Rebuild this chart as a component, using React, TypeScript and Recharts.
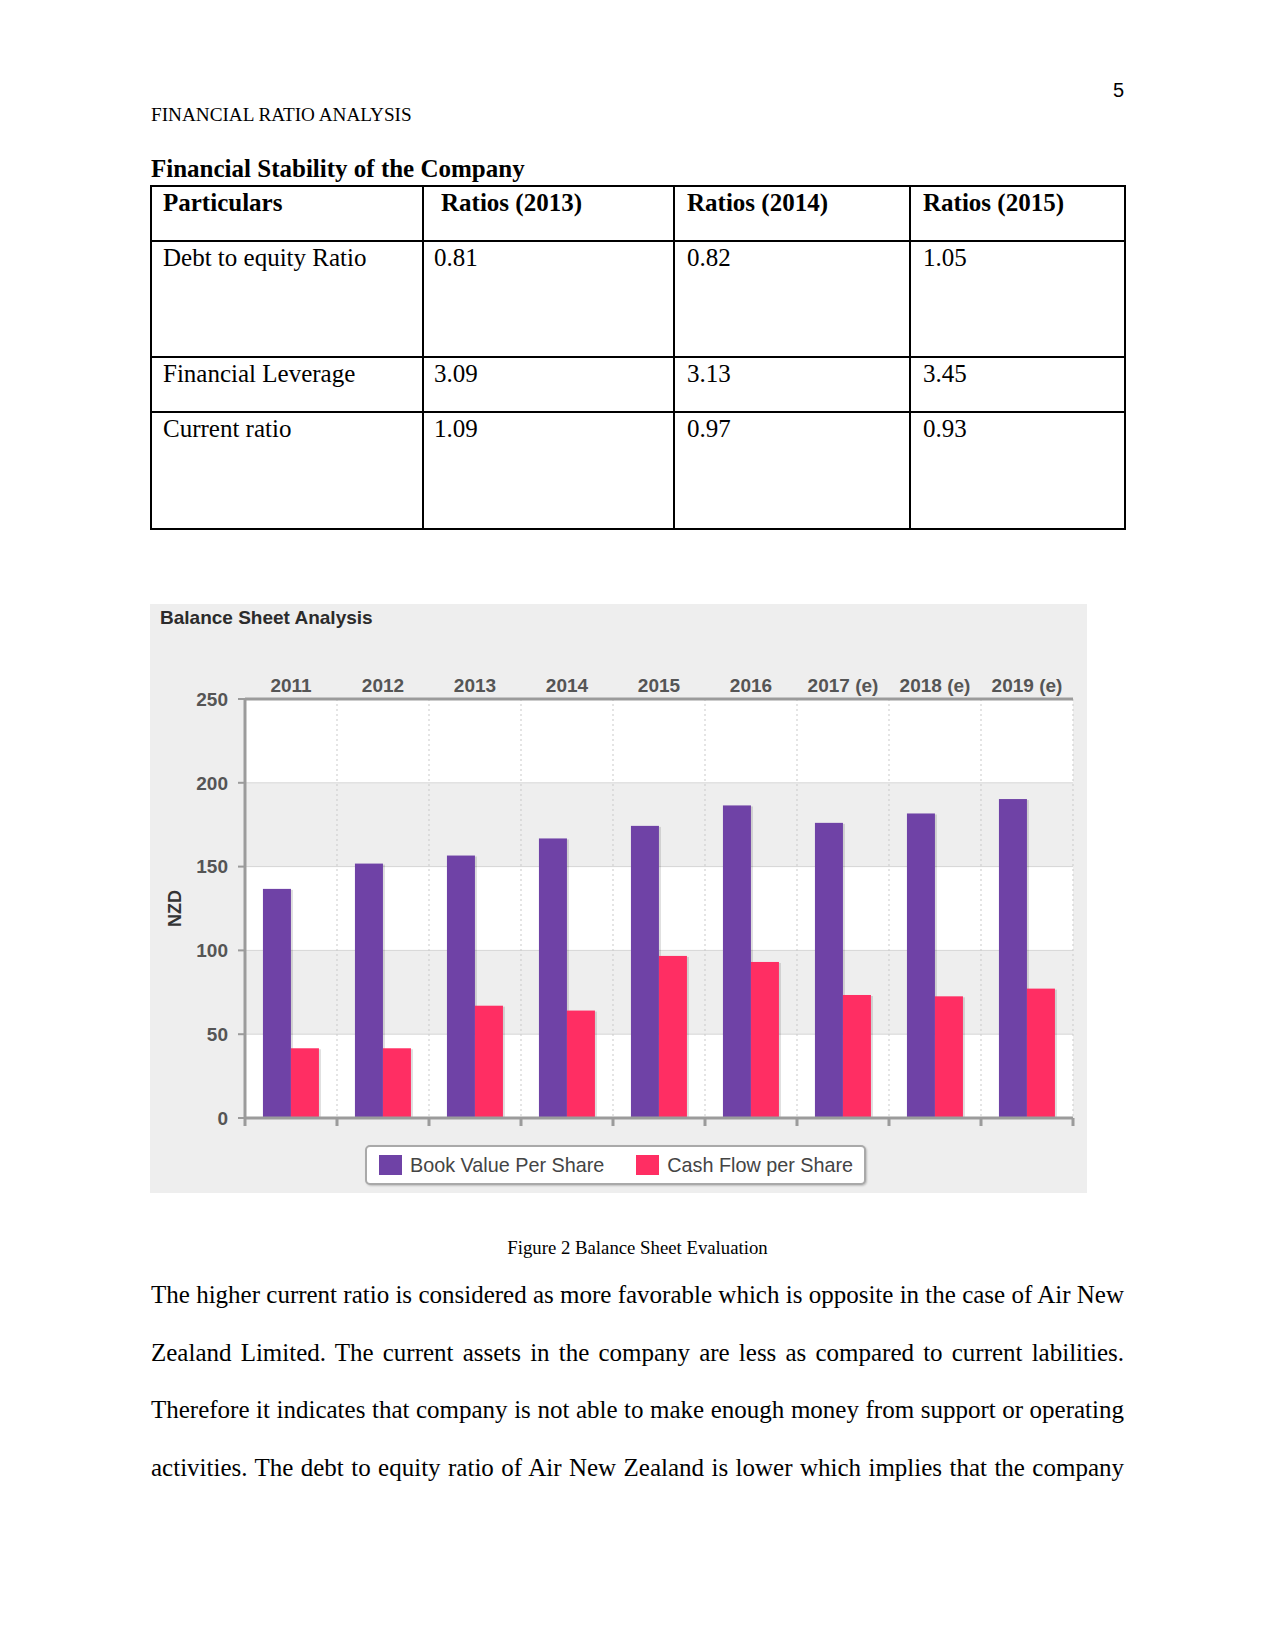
import React from 'react';
import { BarChart, Bar, XAxis, YAxis, CartesianGrid, Legend, Label } from 'recharts';

// ---------- Data ----------
const years = ['2011', '2012', '2013', '2014', '2015', '2016', '2017 (e)', '2018 (e)', '2019 (e)'];
const bookValuePerShare = [136.7, 151.8, 156.6, 166.8, 174.3, 186.5, 176.1, 181.7, 190.3];
const cashFlowPerShare = [41.6, 41.6, 67.0, 64.1, 96.7, 93.1, 73.4, 72.6, 77.2];
const yTicks = [0, 50, 100, 150, 200, 250];
const boundaryTicks = [0, 1, 2, 3, 4, 5, 6, 7, 8, 9];

const tableHeaders = ['Particulars', 'Ratios (2013)', 'Ratios (2014)', 'Ratios (2015)'];
const tableRows = [
  ['Debt to equity Ratio', '0.81', '0.82', '1.05'],
  ['Financial Leverage', '3.09', '3.13', '3.45'],
  ['Current ratio', '1.09', '0.97', '0.93'],
];
const bodyLines = [
  'The higher current ratio is considered as more favorable which is opposite in the case of Air New',
  'Zealand Limited. The current assets in the company are less as compared to current labilities.',
  'Therefore it indicates that company is not able to make enough money from support or operating',
  'activities. The debt to equity ratio of Air New Zealand is lower which implies that the company',
];

const data = years.map((year, i) => ({
  year,
  book: bookValuePerShare[i],
  cash: cashFlowPerShare[i],
}));

// category position (band centre in "category units") for the boundary axis
const slotOf = (d: any) => years.indexOf(d.year) + 0.5;

// ---------- Styles ----------
const serif = '"Liberation Serif", "Times New Roman", serif';
const sans = '"Liberation Sans", Arial, sans-serif';
const axisGray = '#9b9b9b';
const labelGray = '#555555';
const purple = '#6F42A6';
const pink = '#FF2E63';

const Txt = ({ x, baseline, size, bold, font, children, style }: any) => {
  const f = font || serif;
  const k = f === serif ? 0.8375 : 0.8465;
  return (
    <div
      style={{
        position: 'absolute',
        left: x,
        top: baseline - k * size,
        fontSize: size,
        lineHeight: `${size}px`,
        fontWeight: bold ? 700 : 400,
        fontFamily: f,
        whiteSpace: 'nowrap',
        color: '#000',
        ...style,
      }}
    >
      {children}
    </div>
  );
};

const colLines = [151, 423, 674, 910, 1125];
const rowLines = [186, 241, 357, 412, 529];
const headerX = [163, 441, 687, 923];
const valueX = [163, 434, 687, 923];

const NzdLabel = (props: any) => {
  const vb = props.viewBox || { x: 0, y: 0, height: 0 };
  const cx = vb.x;
  const cy = vb.y + vb.height / 2;
  return (
    <text
      x={cx}
      y={cy}
      transform={`rotate(-90 ${cx} ${cy})`}
      textAnchor="middle"
      dominantBaseline="central"
      fill="#333"
      fontSize={18}
      fontWeight={700}
      fontFamily={sans}
    >
      NZD
    </text>
  );
};

const ShadowBar = (p: any) => {
  if (!p || p.height == null || p.height <= 0) return <g />;
  return (
    <g>
      <rect x={p.x + 2} y={p.y + 1} width={p.width} height={p.height} fill="rgba(0,0,0,0.13)" />
      <rect x={p.x} y={p.y} width={p.width} height={p.height} fill={p.fill} />
    </g>
  );
};

const renderLegend = (props: any) => {
  const payload = props.payload || [];
  return (
    <div
      style={{
        boxSizing: 'border-box',
        width: 501,
        height: 40,
        border: '2px solid #a9a9a9',
        borderRadius: 5,
        background: '#ffffff',
        display: 'flex',
        alignItems: 'center',
        paddingLeft: 12,
        fontFamily: sans,
        fontSize: 19.8,
        color: '#444',
        whiteSpace: 'nowrap',
        boxShadow: '1px 1px 2px rgba(0,0,0,0.2)',
      }}
    >
      {payload.map((entry: any, i: number) => (
        <div
          key={i}
          style={{ display: 'flex', alignItems: 'center', marginRight: 32, flexShrink: 0 }}
        >
          <span
            style={{
              display: 'inline-block',
              width: 23,
              height: 20,
              background: entry.color,
              marginRight: 8,
              flexShrink: 0,
            }}
          />
          <span style={{ whiteSpace: 'nowrap' }}>{entry.value}</span>
        </div>
      ))}
    </div>
  );
};

export default function App() {
  return (
    <div
      style={{
        position: 'absolute',
        left: 0,
        top: 0,
        width: 1275,
        height: 1650,
        background: '#ffffff',
        fontFamily: serif,
        overflow: 'hidden',
      }}
    >
      {/* Page header */}
      <div
        style={{
          position: 'absolute',
          left: 1080,
          width: 44,
          top: 97 - 0.8465 * 20,
          fontSize: 20,
          lineHeight: '20px',
          fontFamily: sans,
          textAlign: 'right',
        }}
      >
        5
      </div>
      <Txt x={151} baseline={121} size={19.2}>FINANCIAL RATIO ANALYSIS</Txt>
      <Txt x={151} baseline={177} size={25} bold>Financial Stability of the Company</Txt>

      {/* Table */}
      {colLines.map((x, i) => (
        <div
          key={'c' + i}
          style={{
            position: 'absolute',
            left: x - 0.75,
            top: rowLines[0] - 0.75,
            width: 1.5,
            height: rowLines[rowLines.length - 1] - rowLines[0] + 1.5,
            background: '#000',
          }}
        />
      ))}
      {rowLines.map((y, i) => (
        <div
          key={'r' + i}
          style={{
            position: 'absolute',
            left: colLines[0] - 0.75,
            top: y - 0.75,
            width: colLines[colLines.length - 1] - colLines[0] + 1.5,
            height: 1.5,
            background: '#000',
          }}
        />
      ))}
      {tableHeaders.map((h, i) => (
        <Txt key={'h' + i} x={headerX[i]} baseline={rowLines[0] + 24.5} size={25} bold>
          {h}
        </Txt>
      ))}
      {tableRows.map((row, r) =>
        row.map((cell, c) => (
          <Txt key={'v' + r + '-' + c} x={valueX[c]} baseline={rowLines[r + 1] + 25} size={25}>
            {cell}
          </Txt>
        ))
      )}

      {/* Chart panel */}
      <div
        style={{
          position: 'absolute',
          left: 150,
          top: 604,
          width: 937,
          height: 589,
          background: '#eeeeee',
        }}
      >
        <div
          style={{
            position: 'absolute',
            left: 10,
            top: 624 - 604 - 0.8465 * 19,
            fontSize: 19,
            lineHeight: '19px',
            fontWeight: 700,
            fontFamily: sans,
            color: '#2b2b2b',
            whiteSpace: 'nowrap',
          }}
        >
          Balance Sheet Analysis
        </div>
        <BarChart
          width={937}
          height={589}
          data={data}
          margin={{ top: 0, right: 14, bottom: 0, left: 25 }}
          barCategoryGap="19.5%"
          barGap={0}
        >
          <CartesianGrid
            vertical={false}
            horizontalFill={['#ffffff', '#eeeeee']}
            fillOpacity={1}
            stroke="#d6d6d6"
          />
          <CartesianGrid
            xAxisId="bnd"
            horizontal={false}
            stroke="#c9c9c9"
            strokeDasharray="2 3"
          />
          <XAxis
            dataKey="year"
            orientation="top"
            height={95}
            interval={0}
            tickLine={false}
            tickSize={0}
            tickMargin={7}
            axisLine={{ stroke: axisGray, strokeWidth: 3 }}
            tick={{ fill: labelGray, fontSize: 19, fontWeight: 700, fontFamily: sans }}
          />
          <XAxis
            xAxisId="bnd"
            dataKey={slotOf}
            type="number"
            domain={[0, 9]}
            ticks={boundaryTicks}
            allowDataOverflow
            interval={0}
            orientation="bottom"
            height={75}
            tickSize={8}
            axisLine={{ stroke: axisGray, strokeWidth: 3 }}
            tickLine={{ stroke: axisGray, strokeWidth: 3 }}
            tick={() => <g />}
          />
          <YAxis
            domain={[0, 250]}
            ticks={yTicks}
            interval={0}
            width={70}
            tickSize={7}
            tickMargin={10}
            axisLine={{ stroke: axisGray, strokeWidth: 3 }}
            tickLine={{ stroke: axisGray, strokeWidth: 2 }}
            tick={{ fill: labelGray, fontSize: 19, fontWeight: 700, fontFamily: sans }}
          >
            <Label content={NzdLabel} />
          </YAxis>
          <YAxis
            yAxisId="r"
            orientation="right"
            width={0}
            domain={[0, 250]}
            ticks={yTicks}
            tick={false}
            tickLine={false}
            axisLine={{ stroke: axisGray, strokeWidth: 3 }}
          />
          <Bar
            dataKey="book"
            name="Book Value Per Share"
            fill={purple}
            shape={ShadowBar}
            isAnimationActive={false}
          />
          <Bar
            dataKey="cash"
            name="Cash Flow per Share"
            fill={pink}
            shape={ShadowBar}
            isAnimationActive={false}
          />
          <Legend
            layout="horizontal"
            align="center"
            verticalAlign="middle"
            content={renderLegend}
            wrapperStyle={{ left: 215, top: 541, width: 501, height: 40 }}
          />
        </BarChart>
      </div>

      {/* Caption */}
      <div
        style={{
          position: 'absolute',
          left: 0,
          width: 1275,
          top: 1255 - 0.8375 * 18.75,
          fontSize: 18.75,
          lineHeight: '18.75px',
          textAlign: 'center',
          fontFamily: serif,
        }}
      >
        Figure 2 Balance Sheet Evaluation
      </div>

      {/* Body text */}
      {bodyLines.map((line, i) => (
        <div
          key={'b' + i}
          style={{
            position: 'absolute',
            left: 151,
            width: 973,
            top: 1303 + i * 57.5 - 0.8375 * 25,
            fontSize: 25,
            lineHeight: '25px',
            fontFamily: serif,
            textAlign: 'justify',
            textAlignLast: 'justify',
            whiteSpace: 'nowrap',
          }}
        >
          {line}
        </div>
      ))}
    </div>
  );
}
